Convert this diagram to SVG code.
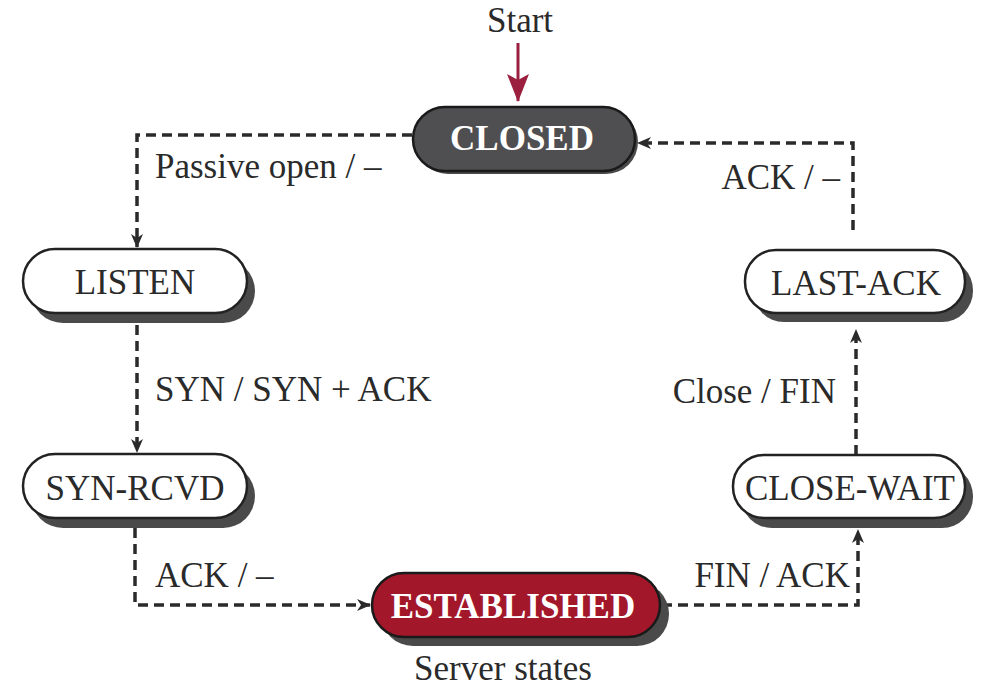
<svg xmlns="http://www.w3.org/2000/svg" width="982" height="695" viewBox="0 0 982 695">
<style>
.lbl{font-family:"Liberation Serif","Times New Roman",serif;font-size:35px;fill:#2a2a2a}
.st{font-family:"Liberation Serif","Times New Roman",serif;font-size:35px;fill:#2a2a2a;text-anchor:middle}
.stw{font-family:"Liberation Serif","Times New Roman",serif;font-size:35px;font-weight:bold;fill:#ffffff;text-anchor:middle}
.box{fill:#ffffff;stroke:#222;stroke-width:2.5}
.shadow{fill:#4a4a4a}
.conn{fill:none;stroke:#2a2a2a;stroke-width:3.5;stroke-dasharray:10 6}
</style>
<defs>
<marker id="ah" viewBox="0 0 14 12" refX="13" refY="6" markerWidth="14" markerHeight="12" markerUnits="userSpaceOnUse" orient="auto">
<path d="M0,0 L14,6 L0,12 L4,6 Z" fill="#2a2a2a"/>
</marker>
<marker id="ahr" viewBox="0 0 28 22" refX="27" refY="11" markerWidth="28" markerHeight="22" markerUnits="userSpaceOnUse" orient="auto">
<path d="M0,0 L28,11 L0,22 L6,11 Z" fill="#9b2040"/>
</marker>
</defs>
<rect width="982" height="695" fill="#ffffff"/>

<g id="start">
<text class="st" x="520" y="32">Start</text>
<line x1="518" y1="43" x2="518" y2="101" stroke="#9b2040" stroke-width="3" marker-end="url(#ahr)"/>
</g>

<g id="connectors">
<path class="conn" d="M412,135 H137 V247" marker-end="url(#ah)"/>
<path class="conn" d="M137,325 V452" marker-end="url(#ah)"/>
<path class="conn" d="M135,528 V605 H370" marker-end="url(#ah)"/>
<path class="conn" d="M662,605 H858 V530" marker-end="url(#ah)"/>
<path class="conn" d="M856,455 V330" marker-end="url(#ah)"/>
<path class="conn" d="M853,230 V143 H638" marker-end="url(#ah)"/>
<text class="lbl" x="155" y="178">Passive open / –</text>
<text class="lbl" x="155" y="401">SYN / SYN + ACK</text>
<text class="lbl" x="155" y="587">ACK / –</text>
<text class="lbl" x="850" y="587" text-anchor="end">FIN / ACK</text>
<text class="lbl" x="836" y="403" text-anchor="end">Close / FIN</text>
<text class="lbl" x="840" y="189" text-anchor="end">ACK / –</text>
</g>

<g id="closed">
<rect class="shadow" x="416" y="110" width="222" height="64" rx="32"/>
<rect x="413" y="107" width="222" height="64" rx="32" fill="#4f4f52" stroke="#1a1a1a" stroke-width="2.5"/>
<text class="stw" x="522" y="150">CLOSED</text>
</g>

<g id="listen">
<rect class="shadow" x="31" y="259" width="224" height="64" rx="32"/>
<rect class="box" x="23" y="249" width="224" height="64" rx="32"/>
<text class="st" x="135" y="294">LISTEN</text>
</g>

<g id="syn-rcvd">
<rect class="shadow" x="31" y="464" width="224" height="64" rx="32"/>
<rect class="box" x="23" y="454" width="224" height="64" rx="32"/>
<text class="st" x="135" y="500">SYN-RCVD</text>
</g>

<g id="established">
<rect class="shadow" x="381" y="582" width="288" height="64" rx="32"/>
<rect x="372" y="573" width="288" height="64" rx="32" fill="#a3172b" stroke="#1a1a1a" stroke-width="2.5"/>
<text class="stw" x="513" y="618">ESTABLISHED</text>
</g>

<g id="close-wait">
<rect class="shadow" x="741" y="465" width="232" height="63" rx="31"/>
<rect class="box" x="733" y="455" width="232" height="63" rx="31"/>
<text class="st" x="850" y="500">CLOSE-WAIT</text>
</g>

<g id="last-ack">
<rect class="shadow" x="753" y="259" width="220" height="63" rx="31"/>
<rect class="box" x="745" y="250" width="220" height="63" rx="31"/>
<text class="st" x="856" y="295">LAST-ACK</text>
</g>

<text class="st" x="503" y="680">Server states</text>
</svg>
